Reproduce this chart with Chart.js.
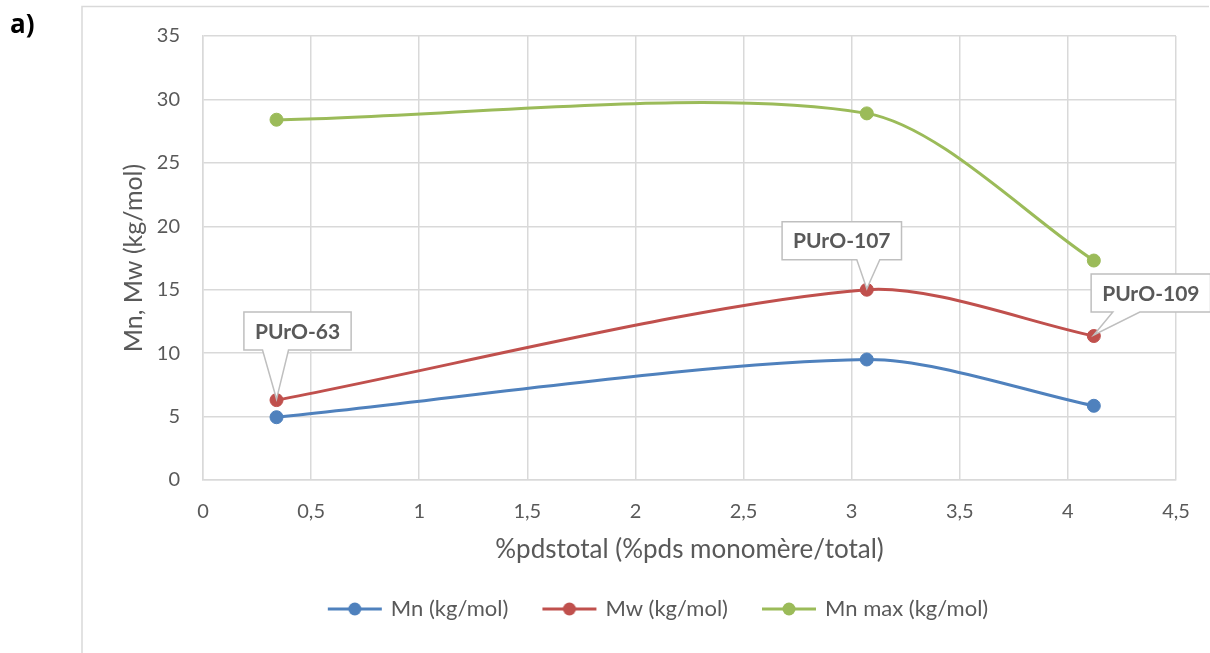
<!DOCTYPE html>
<html>
<head>
<meta charset="utf-8">
<script src="https://cdn.jsdelivr.net/npm/chart.js@4"></script>
<style>
    html, body { margin: 0; padding: 0; background: #fff; }
    #wrap { width: 1210px; height: 653px; }
</style>
</head>
<body>
<div id="wrap"><canvas id="chart" width="1210" height="653"></canvas></div>
<script>
// Values
const xValues = [0.34, 3.07, 4.12];
const mnValues = [4.95, 9.5, 5.85];
const mwValues = [6.3, 15.0, 11.35];
const mnMaxValues = [28.4, 28.9, 17.3];
const seriesNames = ["Mn (kg/mol)", "Mw (kg/mol)", "Mn max (kg/mol)"];
const seriesColors = ["#4f81bd", "#c0504d", "#9bbb59"];
const xTickLabels = ["0", "0,5", "1", "1,5", "2", "2,5", "3", "3,5", "4", "4,5"];
const yTickLabels = ["0", "5", "10", "15", "20", "25", "30", "35"];
const mwLabels = ["PUrO-63", "PUrO-107", "PUrO-109"];

const FONT = "Lato";
const TEXT = "#595959";
const GRID = "#d9d9d9";

function toPoints(ys) {
    return xValues.map((x, i) => ({ x: x, y: ys[i] }));
}

function makeSeries(name, ys, color) {
    return {
        label: name,
        data: toPoints(ys),
        borderColor: color,
        backgroundColor: color,
        borderWidth: 3,
        pointRadius: 6.5,
        pointBorderWidth: 1,
        pointHoverRadius: 6.5,
        tension: 0.28,
        fill: false
    };
}

// little line-with-dot icon for the legend, like the Excel legend
function legendIcon(color) {
    const c = document.createElement("canvas");
    c.width = 56;
    c.height = 16;
    const g = c.getContext("2d");
    g.strokeStyle = color;
    g.lineWidth = 3;
    g.beginPath();
    g.moveTo(1, 8);
    g.lineTo(55, 8);
    g.stroke();
    g.fillStyle = color;
    g.beginPath();
    g.arc(28, 8, 6.5, 0, Math.PI * 2);
    g.fill();
    return c;
}

// outer frame and panel letter
const framePlugin = {
    id: "frame",
    afterLayout(chart) {
        // the Excel legend sits a bit right of the middle
        chart.legend.left += 54;
    },
    beforeDraw(chart) {
        const ctx = chart.ctx;
        ctx.save();
        ctx.fillStyle = "#fff";
        ctx.fillRect(0, 0, chart.width, chart.height);
        ctx.strokeStyle = GRID;
        ctx.lineWidth = 1.5;
        ctx.beginPath();
        ctx.moveTo(82, 660);
        ctx.lineTo(82, 6.5);
        ctx.lineTo(1209, 6.5);
        ctx.stroke();
        ctx.fillStyle = "#000";
        ctx.font = "bold 26px 'Open Sans'";
        ctx.textBaseline = "middle";
        ctx.fillText("a)", 10, 26);
        ctx.restore();
    }
};

// callout boxes on the Mw series
const calloutPlugin = {
    id: "callouts",
    afterDatasetsDraw(chart, args, opts) {
        const ctx = chart.ctx;
        const meta = chart.getDatasetMeta(1);
        ctx.save();
        ctx.font = "bold 21px " + FONT;
        mwLabels.forEach((txt, i) => {
            const pt = meta.data[i];
            const o = opts.offsets[i];
            const w = ctx.measureText(txt).width + 22;
            const h = 38;
            const left = pt.x + o.dx - w / 2;
            const top = pt.y + o.dy - h / 2;
            const right = left + w;
            const bottom = top + h;
            ctx.beginPath();
            ctx.moveTo(left, top);
            ctx.lineTo(right, top);
            ctx.lineTo(right, bottom);
            ctx.lineTo(pt.x + o.base[1], bottom);
            ctx.lineTo(pt.x, pt.y - 1);
            ctx.lineTo(pt.x + o.base[0], bottom);
            ctx.lineTo(left, bottom);
            ctx.closePath();
            ctx.fillStyle = "#fff";
            ctx.fill();
            ctx.strokeStyle = "#bfbfbf";
            ctx.lineWidth = 1.5;
            ctx.stroke();
            ctx.fillStyle = TEXT;
            ctx.textAlign = "center";
            ctx.textBaseline = "middle";
            ctx.fillText(txt, (left + right) / 2, (top + bottom) / 2 + 1);
        });
        ctx.restore();
    }
};

new Chart(document.getElementById("chart"), {
    type: "line",
    data: {
        datasets: [
            makeSeries(seriesNames[0], mnValues, seriesColors[0]),
            makeSeries(seriesNames[1], mwValues, seriesColors[1]),
            makeSeries(seriesNames[2], mnMaxValues, seriesColors[2])
        ]
    },
    options: {
        responsive: false,
        animation: false,
        layout: { padding: { left: 88, right: 34, top: 36, bottom: 23 } },
        plugins: {
            tooltip: { enabled: false },
            legend: {
                position: "bottom",
                labels: {
                    usePointStyle: true,
                    pointStyleWidth: 50,
                    padding: 36,
                    color: TEXT,
                    font: { family: FONT, size: 22 },
                    generateLabels: (chart) =>
                        Chart.defaults.plugins.legend.labels.generateLabels(chart).map((item, i) => {
                            item.pointStyle = legendIcon(seriesColors[i]);
                            return item;
                        })
                }
            },
            callouts: {
                offsets: [
                    { dx: 21, dy: -69, base: [-14, 12] },
                    { dx: -25, dy: -49, base: [-10, 13] },
                    { dx: 57, dy: -43, base: [19, 46] }
                ]
            }
        },
        scales: {
            x: {
                type: "linear",
                min: 0,
                max: 4.5,
                afterFit: (scale) => { scale.height = 82; },
                grid: { color: GRID, lineWidth: 1.5, drawTicks: false },
                border: { color: GRID, width: 1.5 },
                ticks: {
                    stepSize: 0.5,
                    padding: 20,
                    color: TEXT,
                    font: { family: FONT, size: 20 },
                    callback: (v, i) => xTickLabels[i]
                },
                title: {
                    display: true,
                    text: "%pdstotal (%pds monomère/total)",
                    color: TEXT,
                    font: { family: FONT, size: 26, lineHeight: 0.92 },
                    padding: { top: 0, bottom: 0 }
                }
            },
            y: {
                min: 0,
                max: 35,
                afterFit: (scale) => { scale.width = 115; },
                grid: { color: GRID, lineWidth: 1.5, drawTicks: false },
                border: { color: GRID, width: 1.5 },
                ticks: {
                    stepSize: 5,
                    padding: 23,
                    color: TEXT,
                    font: { family: FONT, size: 20 },
                    callback: (v, i) => yTickLabels[i]
                },
                title: {
                    display: true,
                    text: "Mn, Mw (kg/mol)",
                    color: TEXT,
                    font: { family: FONT, size: 25, lineHeight: 1 },
                    padding: { top: 33, bottom: 0 }
                }
            }
        }
    },
    plugins: [framePlugin, calloutPlugin]
});
</script>
</body>
</html>
